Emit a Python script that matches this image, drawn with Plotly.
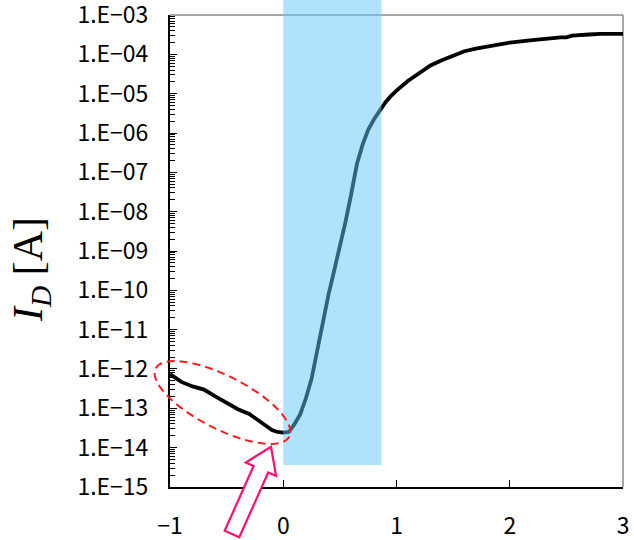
import math
import plotly.graph_objects as go

# ---- data ----
vg = [-1.0, -0.9, -0.8, -0.7, -0.6, -0.5, -0.4, -0.3, -0.2, -0.1, -0.05, 0.0,
      0.05, 0.1, 0.15, 0.2, 0.25, 0.3, 0.35, 0.4, 0.45, 0.5, 0.55, 0.6, 0.65,
      0.7, 0.75, 0.8, 0.85, 0.9, 0.95, 1.0, 1.1, 1.2, 1.3, 1.4, 1.5, 1.6, 1.7,
      1.8, 1.9, 2.0, 2.2, 2.3, 2.45, 2.5, 2.55, 2.7, 2.8, 3.0]
id_a = [7.4e-13, 4.7e-13, 3.6e-13, 3.0e-13, 2.0e-13, 1.4e-13, 9.5e-14, 7.2e-14,
        4.5e-14, 2.8e-14, 2.5e-14, 2.4e-14,
        2.5e-14, 4.0e-14, 7.1e-14, 1.8e-13, 5.6e-13, 3.2e-12, 1.6e-11, 7.9e-11,
        3.2e-10, 1.3e-9, 5.6e-9, 2.8e-8, 1.6e-7,
        5.0e-7, 1.2e-6, 2.2e-6, 3.7e-6, 5.9e-6, 8.7e-6, 1.2e-5, 2.1e-5, 3.4e-5,
        5.2e-5, 7.1e-5, 9.3e-5, 1.2e-4, 1.4e-4,
        1.6e-4, 1.8e-4, 2.0e-4, 2.3e-4, 2.5e-4, 2.7e-4, 2.7e-4, 3.0e-4, 3.2e-4,
        3.3e-4, 3.3e-4]
y_tickvals = [1e-15, 1e-14, 1e-13, 1e-12, 1e-11, 1e-10, 1e-9, 1e-8, 1e-7,
              1e-6, 1e-5, 1e-4, 1e-3]
y_ticktext = ["1.E\u221215", "1.E\u221214", "1.E\u221213", "1.E\u221212",
              "1.E\u221211", "1.E\u221210", "1.E\u221209", "1.E\u221208",
              "1.E\u221207", "1.E\u221206", "1.E\u221205", "1.E\u221204",
              "1.E\u221203"]
x_tickvals = [-1, 0, 1, 2, 3]
x_ticktext = ["\u22121", "0", "1", "2", "3"]
band_x = [0.0, 0.868]

# ---- layout geometry (pixels) ----
W, H = 634, 540
L, R, T, B = 170, 11, 15, 53
PW, PH = W - L - R, H - T - B


def pp(px, py):
    return ((px - L) / PW, (H - B - py) / PH)


def path_from(points, close=True):
    s = ""
    for i, (px, py) in enumerate(points):
        x, y = pp(px, py)
        s += ("M" if i == 0 else "L") + f"{x:.5f},{y:.5f} "
    return s + ("Z" if close else "")


# ellipse (rotated)
cx, cy, ea, eb, th = 222.5, 402.5, 75.0, 26.5, math.radians(27)
ell = []
for k in range(121):
    t = 2 * math.pi * k / 120
    ex = ea * math.cos(t)
    ey = eb * math.sin(t)
    ell.append((cx + ex * math.cos(th) - ey * math.sin(th),
                cy + ex * math.sin(th) + ey * math.cos(th)))

# block arrow
tip = (271.0, 446.7)
u = (0.408, -0.913)
n = (0.913, 0.408)
head_len, head_hw, shaft_hw, shaft_len = 24.7, 16.6, 8.0, 70.9
hb = (tip[0] - head_len * u[0], tip[1] - head_len * u[1])
tl = (hb[0] - shaft_len * u[0], hb[1] - shaft_len * u[1])
arrow = [
    tip,
    (hb[0] + head_hw * n[0], hb[1] + head_hw * n[1]),
    (hb[0] + shaft_hw * n[0], hb[1] + shaft_hw * n[1]),
    (tl[0] + shaft_hw * n[0], tl[1] + shaft_hw * n[1]),
    (tl[0] - shaft_hw * n[0], tl[1] - shaft_hw * n[1]),
    (hb[0] - shaft_hw * n[0], hb[1] - shaft_hw * n[1]),
    (hb[0] - head_hw * n[0], hb[1] - head_hw * n[1]),
]

fig = go.Figure()
fig.add_trace(go.Scatter(x=vg, y=id_a, mode="lines",
                         line=dict(color="black", width=3.8),
                         hoverinfo="skip", showlegend=False))

shapes = [
    # grey top and right frame
    dict(type="line", xref="paper", yref="paper", x0=0, x1=1, y0=1, y1=1,
         line=dict(color="#8a8a8a", width=1.5), layer="below"),
    dict(type="line", xref="paper", yref="paper", x0=1, x1=1, y0=0, y1=1,
         line=dict(color="#8a8a8a", width=1.5), layer="below"),
    # translucent band
    dict(type="rect", xref="x", yref="paper", x0=band_x[0], x1=band_x[1],
         y0=pp(0, 465)[1], y1=pp(0, 0)[1],
         fillcolor="rgba(98,198,247,0.5)", line=dict(width=0), layer="above"),
    # dashed ellipse
    dict(type="path", xref="paper", yref="paper", path=path_from(ell),
         line=dict(color="#ff1a1a", width=2, dash="8px,5px"), layer="above"),
    # block arrow
    dict(type="path", xref="paper", yref="paper", path=path_from(arrow),
         fillcolor="white", line=dict(color="#ff0f6f", width=2.2),
         layer="above"),
]

tick_font = dict(family="Noto Sans CJK JP", size=23, color="black")

fig.update_layout(
    width=W, height=H,
    margin=dict(l=L, r=R, t=T, b=B, pad=0, autoexpand=False),
    plot_bgcolor="white", paper_bgcolor="white",
    shapes=shapes,
    xaxis=dict(range=[-1, 3], tickvals=x_tickvals, ticktext=x_ticktext,
               ticks="inside", ticklen=7, tickwidth=1.2, tickcolor="black",
               showline=True, linecolor="black", linewidth=2,
               showgrid=False, zeroline=False, tickfont=tick_font,
               ticklabelstandoff=17, automargin=False,
               ticklabeloverflow="allow"),
    yaxis=dict(type="log", range=[-15.0005, -2.9995], tickvals=y_tickvals,
               ticktext=y_ticktext, ticks="inside", ticklen=7,
               tickwidth=1.2, tickcolor="black",
               minor=dict(ticks="inside", ticklen=5, tickwidth=1,
                          tickcolor="black", dtick="D1", showgrid=False),
               showline=True, linecolor="black", linewidth=2,
               showgrid=False, zeroline=False, tickfont=tick_font,
               ticklabelstandoff=15, automargin=False,
               ticklabeloverflow="allow"),
    annotations=[dict(
        text="<i>I</i><sub><i>D</i></sub> [A]", xref="paper", yref="paper",
        x=pp(31, 0)[0], y=pp(0, 270)[1], xanchor="center", yanchor="middle",
        textangle=-90, showarrow=False,
        font=dict(family="Liberation Serif", size=42, color="black"))],
)

fig.write_html("out.html")
